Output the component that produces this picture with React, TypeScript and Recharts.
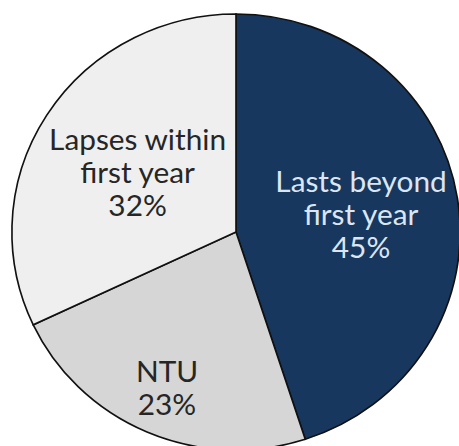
import { Cell, Pie, PieChart } from "recharts";

const NAMES = ["Lasts beyond first year", "NTU", "Lapses within first year"];
const LINES = [
  ["Lasts beyond", "first year"],
  ["NTU"],
  ["Lapses within", "first year"],
];
const VALUES = [45, 23, 32];

const COLORS = ["#17375e", "#d6d6d6", "#efefef"];
const TEXT_COLORS = ["#dce6f2", "#262626", "#262626"];
const LABEL_RADIUS = [0.565, 0.775, 0.52];
const RAD = Math.PI / 180;

const data = NAMES.map((name, i) => ({ name, value: VALUES[i] }));

function renderLabel(props: any) {
  const { cx, cy, midAngle, outerRadius, index, value } = props;
  const r = outerRadius * LABEL_RADIUS[index];
  const x = cx + r * Math.cos(-midAngle * RAD);
  const y = cy + r * Math.sin(-midAngle * RAD);
  const lines = [...LINES[index], `${value}%`];
  const lh = 33;
  const top = y - ((lines.length - 1) * lh) / 2;
  return (
    <text
      x={x}
      y={top}
      fill={TEXT_COLORS[index]}
      textAnchor="middle"
      dominantBaseline="central"
      fontFamily="Lato, 'Open Sans', sans-serif"
      fontSize={29}
    >
      {lines.map((t, i) => (
        <tspan key={i} x={x} dy={i === 0 ? 0 : lh}>
          {t}
        </tspan>
      ))}
    </text>
  );
}

export default function App() {
  return (
    <div style={{ position: "absolute", left: 0, top: 0, width: 459, height: 446, background: "#fff", overflow: "hidden" }}>
      <div style={{ transform: "scaleX(1.028)", transformOrigin: "236px 0" }}>
        <PieChart width={459} height={446} margin={{ top: 0, right: 0, bottom: 0, left: 0 }}>
          <Pie
            data={data}
            dataKey="value"
            nameKey="name"
            cx={236}
            cy={232}
            outerRadius={218}
            startAngle={90}
            endAngle={-270}
            stroke="#111"
            strokeWidth={1.6}
            label={renderLabel}
            labelLine={false}
            isAnimationActive={false}
          >
            {data.map((d, i) => (
              <Cell key={d.name} fill={COLORS[i]} />
            ))}
          </Pie>
        </PieChart>
      </div>
    </div>
  );
}
